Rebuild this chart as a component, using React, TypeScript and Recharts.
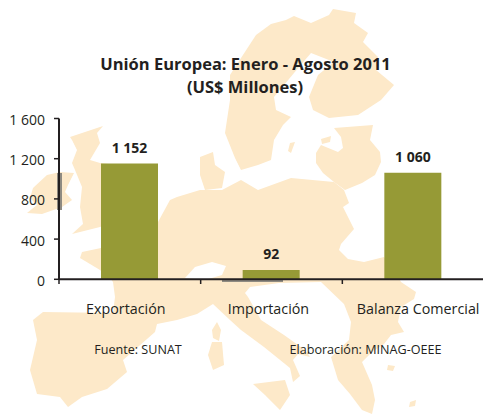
import React from "react";
import { BarChart, Bar, XAxis, YAxis, LabelList } from "recharts";

const categories = ["Exportación", "Importación", "Balanza Comercial"];
const values = [1152, 92, 1060];
const yTicks = [0, 400, 800, 1200, 1600];
// the labels in the source sit a little off the bar centres
const labelShift = [-4, -3, 5];

const INK = "#231f20";
const OLIVE = "#969a36";
const LAND = "#fde9c9";
const FONT = "'Open Sans', sans-serif";

const data = categories.map((name, i) => ({ name, value: values[i] }));
const fmtNum = (v: number) => String(v).replace(/\B(?=(\d{3})+$)/g, " ");

// rough outline of the map behind the chart, in page pixels
const landShapes = [
  // continent
  "170,200 177,197 200,190 222,190 241,180 258,190 291,178 334,182 344,190 349,203 343,207 354,229 341,244 339,250 348,259 364,262 384,257 395,270 401,282 416,292 414,299 401,307 398,322 404,332 391,335 384,344 372,352 362,362 372,385 375,400 372,414 362,410 350,394 338,380 331,357 349,340 351,322 344,304 321,282 279,283 250,287 245,293 248,297 261,320 284,335 305,350 310,357 298,354 293,360 300,376 293,382 290,368 264,347 241,330 230,320 213,304 197,314 177,320 157,324 155,332 123,360 127,372 107,389 82,397 68,407 60,397 37,394 30,370 37,340 33,320 43,312 113,313 115,297 113,282 110,278 100,270 80,258 82,252 101,248 130,235 158,222",
  // Scandinavia
  "225,133 230,100 230,75 241,58 256,35 271,24 286,20 294,16 311,23 329,15 333,9 356,13 354,23 368,33 363,42 378,57 376,70 394,85 381,100 358,115 329,118 313,110 309,97 318,75 334,62 311,53 299,67 274,97 276,110 291,117 283,125 274,140 271,160 258,165 241,170 235,158",
  // Denmark
  "200,157 213,152 215,165 225,172 222,188 205,190 200,175",
  // Baltics and Belarus
  "334,128 373,125 370,140 380,152 381,162 375,175 362,183 345,190 334,182 323,173 316,163 316,153 321,145 338,152 343,148 341,137",
  // Great Britain
  "103,126 70,137 72,140 77,150 72,163 75,170 82,187 80,207 83,224 72,234 100,227 130,215 140,190 118,165 100,163 90,160 100,143 97,133",
  // Ireland
  "47,175 60,172 74,173 68,185 65,192 72,200 62,207 42,214 27,213 37,205 30,198 33,188",
  // Corsica, Sardinia, Sicily
  "217,322 221,330 219,341 213,338 212,330",
  "212,342 222,342 224,365 213,370 208,355",
  "253,384 285,380 290,395 280,410 265,395",
  // Gotland, Saaremaa
  "290,143 295,142 291,153 288,151",
  "321,139 331,136 330,142 322,144",
  // Aegean islands
  "388,365 395,366 393,371 387,370",
  "410,402 416,400 415,406 409,407",
];

const lakeShape = "185,278 195,267 212,262 226,266 222,275 205,280";

// smudges the source picture has on its axes
const axisGhosts = [
  { x: 57, y: 173, width: 5, height: 37 },
  { x: 222, y: 279, width: 61, height: 3 },
];

function Backdrop() {
  return (
    <svg width={483} height={415} style={{ position: "absolute", left: 0, top: 0 }}>
      {landShapes.map((p, i) => (
        <polygon key={i} points={p} fill={LAND} />
      ))}
      <polygon points={lakeShape} fill="#fff" />
      {axisGhosts.map((g, i) => (
        <rect key={i} {...g} fill="#8f8b82" />
      ))}
      <g fontFamily={FONT} fill={INK} textAnchor="middle">
        <text x={245.5} y={70} fontSize={16.5} fontWeight={700}>Unión Europea: Enero - Agosto 2011</text>
        <text x={245} y={93} fontSize={16.5} fontWeight={700}>(US$ Millones)</text>
        <text x={138} y={354} fontSize={12.6}>Fuente: SUNAT</text>
        <text x={365.5} y={354} fontSize={12.6}>Elaboración: MINAG-OEEE</text>
      </g>
    </svg>
  );
}

const CategoryTick = ({ x, y, payload, index }: any) => {
  const step = 425 / categories.length;
  return (
    <g>
      <line x1={x - step / 2} x2={x - step / 2} y1={279} y2={284} stroke={INK} strokeWidth={1.5} />
      <text x={x + labelShift[index]} y={314} textAnchor="middle" fontFamily={FONT} fontSize={14.3} fill={INK}>
        {payload.value}
      </text>
    </g>
  );
};

export default function App() {
  return (
    <div style={{ position: "absolute", left: 0, top: 0, width: 483, height: 415, overflow: "hidden", background: "#fff" }}>
      <Backdrop />
      <div style={{ position: "absolute", left: 0, top: 0 }}>
        <BarChart
          width={484}
          height={415}
          data={data}
          barSize={57}
          margin={{ top: 118.5, right: 0, left: 0, bottom: 105.7 }}
          style={{ background: "transparent" }}
        >
          <XAxis
            dataKey="name"
            height={30}
            axisLine={{ stroke: INK, strokeWidth: 2 }}
            tickLine={false}
            tick={<CategoryTick />}
            interval={0}
          />
          <YAxis
            width={59}
            domain={[0, 1600]}
            ticks={yTicks}
            tickFormatter={fmtNum}
            axisLine={{ stroke: INK, strokeWidth: 2 }}
            tickLine={{ stroke: INK, strokeWidth: 1.5 }}
            tickSize={5}
            tickMargin={9}
            tick={{ fill: INK, fontSize: 14, fontFamily: FONT, dy: 1.5 }}
          />
          <Bar dataKey="value" fill={OLIVE} isAnimationActive={false}>
            <LabelList
              dataKey="value"
              position="top"
              offset={11}
              formatter={(v: any) => fmtNum(Number(v))}
              style={{ fill: INK, fontSize: 14, fontWeight: 700, fontFamily: FONT }}
            />
          </Bar>
        </BarChart>
      </div>
    </div>
  );
}
